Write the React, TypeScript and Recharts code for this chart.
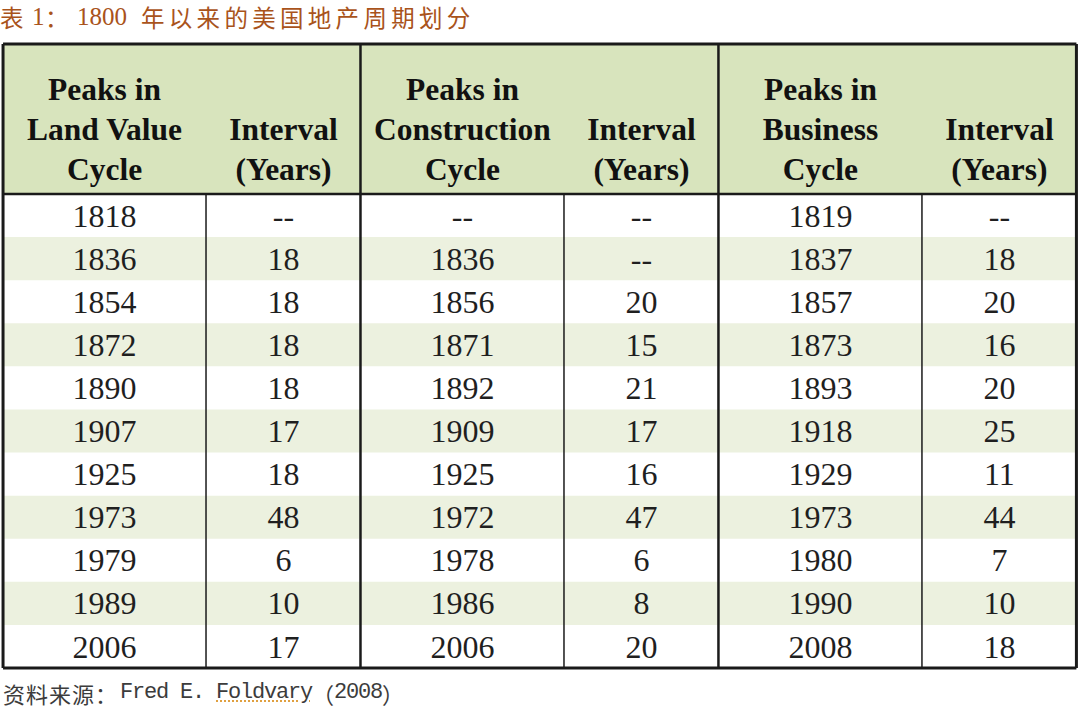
import React from 'react';
import { ScatterChart, Scatter, XAxis, YAxis, ReferenceArea, ReferenceLine } from 'recharts';

// table values, one array per column ("--" cells are null)
const landPeaks = [1818, 1836, 1854, 1872, 1890, 1907, 1925, 1973, 1979, 1989, 2006];
const landInterval = [null, 18, 18, 18, 18, 17, 18, 48, 6, 10, 17];
const constructionPeaks = [null, 1836, 1856, 1871, 1892, 1909, 1925, 1972, 1978, 1986, 2006];
const constructionInterval = [null, null, 20, 15, 21, 17, 16, 47, 6, 8, 20];
const businessPeaks = [1819, 1837, 1857, 1873, 1893, 1918, 1929, 1973, 1980, 1990, 2008];
const businessInterval = [null, 18, 20, 16, 20, 25, 11, 44, 7, 10, 18];

const headers = [
    ['Peaks in', 'Land Value', 'Cycle'],
    ['Interval', '(Years)'],
    ['Peaks in', 'Construction', 'Cycle'],
    ['Interval', '(Years)'],
    ['Peaks in', 'Business', 'Cycle'],
    ['Interval', '(Years)'],
];

const columns = [landPeaks, landInterval, constructionPeaks, constructionInterval, businessPeaks, businessInterval];

const cellData = columns.flatMap((col, c) =>
    col.map((v, r) => ({ col: c, row: r, label: v == null ? '--' : String(v) }))
);
const headerData = headers.map((lines, c) => ({ col: c, row: -2, lines }));

// layout (axis units: one column pitch on x, one row on y)
const W = 1080;
const H = 709;
const LEFT = -0.567;
const RIGHT = 5.43;
const TOP = -3.98;
const HEAD_BOTTOM = -0.5;
const BOTTOM = 10.5;
const GROUP_LINES = [1.43, 3.43];
const THIN_LINES = [0.567, 2.567, 4.567];
const STRIPED_ROWS = [1, 3, 5, 7, 9];

const HEADER_BG = '#d8e4bd';
const STRIPE_BG = '#ecf1df';
const BORDER = '#1a1a1a';

const serif = "'Liberation Serif', serif";
const cjk = "'Noto Sans CJK SC', sans-serif";
const mono = "'Liberation Mono', monospace";

const CellText = (props: any) => (
    <text
        x={props.cx}
        y={props.cy}
        textAnchor="middle"
        dominantBaseline="central"
        fontFamily={serif}
        fontSize={32}
        fill="#1f1f1f"
    >
        {props.payload.label}
    </text>
);

const HeaderText = (props: any) => {
    const lines: string[] = props.payload.lines;
    return (
        <g>
            {lines.map((t, i) => (
                <text
                    key={i}
                    x={props.cx}
                    y={props.cy + (i + 2 - lines.length) * 40}
                    textAnchor="middle"
                    dominantBaseline="central"
                    fontFamily={serif}
                    fontWeight="bold"
                    fontSize={31.5}
                    fill="#111"
                >
                    {t}
                </text>
            ))}
        </g>
    );
};

const piece = (left: number, extra: React.CSSProperties = {}): React.CSSProperties => ({
    position: 'absolute',
    left,
    top: 0,
    whiteSpace: 'pre',
    ...extra,
});

export default function App() {
    return (
        <div style={{ position: 'absolute', left: 0, top: 0, width: W, height: H, background: '#fff', overflow: 'hidden' }}>
            <ScatterChart width={W} height={H} margin={{ top: 0, right: 0, bottom: 0, left: 0 }}>
                <XAxis type="number" dataKey="col" domain={[-0.584, 5.45]} allowDataOverflow hide />
                <YAxis type="number" dataKey="row" domain={[-5, 11.45]} allowDataOverflow reversed hide />
                <ReferenceArea x1={LEFT} x2={RIGHT} y1={TOP} y2={HEAD_BOTTOM} fill={HEADER_BG} fillOpacity={1} />
                {STRIPED_ROWS.map((r) => (
                    <ReferenceArea key={r} x1={LEFT} x2={RIGHT} y1={r - 0.5} y2={r + 0.5} fill={STRIPE_BG} fillOpacity={1} />
                ))}
                {THIN_LINES.map((x) => (
                    <ReferenceLine key={x} segment={[{ x, y: HEAD_BOTTOM }, { x, y: BOTTOM }]} stroke={BORDER} strokeWidth={1.5} />
                ))}
                {GROUP_LINES.map((x) => (
                    <ReferenceLine key={x} segment={[{ x, y: TOP }, { x, y: BOTTOM }]} stroke={BORDER} strokeWidth={2.5} />
                ))}
                <ReferenceLine segment={[{ x: LEFT, y: HEAD_BOTTOM }, { x: RIGHT, y: HEAD_BOTTOM }]} stroke={BORDER} strokeWidth={2.5} />
                <ReferenceLine segment={[{ x: LEFT, y: TOP }, { x: RIGHT, y: TOP }]} stroke={BORDER} strokeWidth={3} />
                <ReferenceLine segment={[{ x: LEFT, y: BOTTOM }, { x: RIGHT, y: BOTTOM }]} stroke={BORDER} strokeWidth={3} />
                <ReferenceLine segment={[{ x: LEFT, y: TOP }, { x: LEFT, y: BOTTOM }]} stroke={BORDER} strokeWidth={3} />
                <ReferenceLine segment={[{ x: RIGHT, y: TOP }, { x: RIGHT, y: BOTTOM }]} stroke={BORDER} strokeWidth={3} />
                <Scatter data={headerData} shape={HeaderText} isAnimationActive={false} />
                <Scatter data={cellData} shape={CellText} isAnimationActive={false} />
            </ScatterChart>
            <div style={{ position: 'absolute', left: 0, top: 0, width: 500, height: 34, zIndex: 2, color: '#a9531b', fontSize: 23.5, lineHeight: '34px', fontFamily: cjk }}>
                <span style={piece(0)}>表</span>
                <span style={piece(32, { fontFamily: serif, fontSize: 25 })}>1</span>
                <span style={piece(45)}>：</span>
                <span style={piece(77, { fontFamily: serif, fontSize: 25 })}>1800</span>
                <span style={piece(141, { letterSpacing: 4.3 })}>年以来的美国地产周期划分</span>
            </div>
            <div style={{ position: 'absolute', left: 0, top: 677, width: 420, height: 32, zIndex: 2, color: '#3c3c3c', fontSize: 22, lineHeight: '32px', fontFamily: cjk }}>
                <span style={piece(3, { letterSpacing: 1 })}>资料来源：</span>
                <span style={piece(120, { fontFamily: mono, fontSize: 22, letterSpacing: -1.2 })}>Fred E. </span>
                <span style={piece(216, { fontFamily: mono, fontSize: 22, letterSpacing: -1.2, textDecoration: 'underline dotted', textDecorationColor: '#e0a040' })}>Foldvary</span>
                <span style={piece(312)}>（</span>
                <span style={piece(334, { fontFamily: mono, fontSize: 22, letterSpacing: -1.2 })}>2008</span>
                <span style={piece(382)}>）</span>
            </div>
        </div>
    );
}
